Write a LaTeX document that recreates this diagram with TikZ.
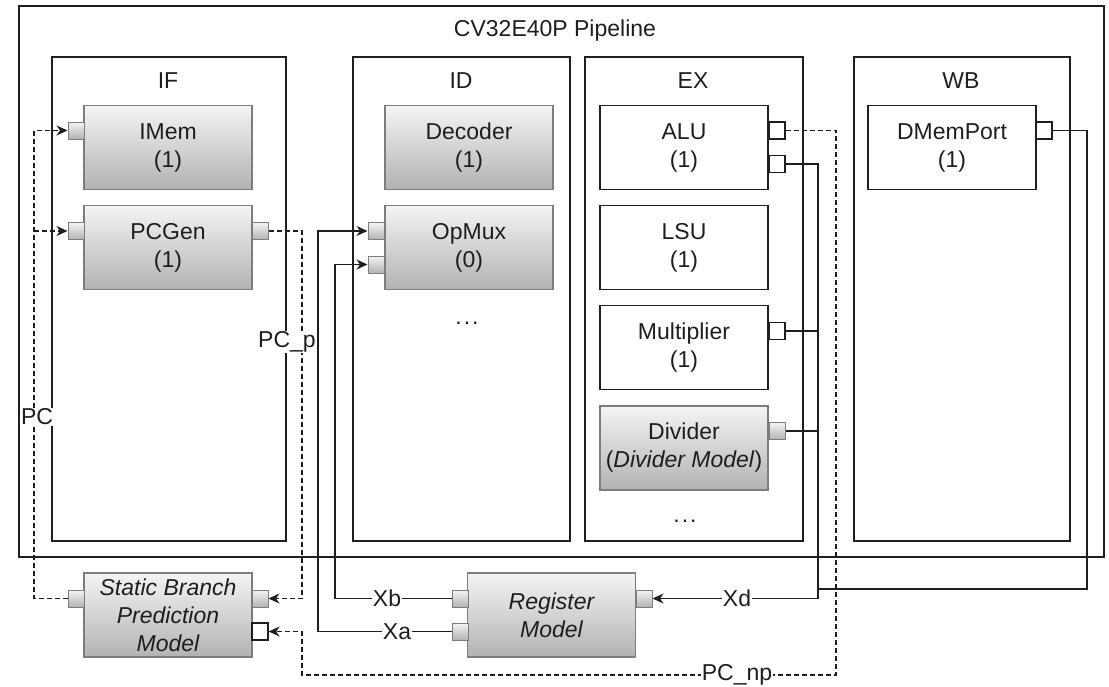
\documentclass[tikz,border=0pt]{standalone}
\usepackage{fontspec}
\setmainfont{Liberation Sans}
\usetikzlibrary{arrows.meta}
\definecolor{gtop}{RGB}{244,244,244}
\definecolor{gbot}{RGB}{178,178,178}
\definecolor{gline}{RGB}{125,125,125}
\definecolor{ink}{RGB}{30,30,30}
\begin{document}
\begin{tikzpicture}[x=1pt,y=-1pt,
  font=\fontsize{23}{28}\selectfont, text=ink,
  stage/.style={draw=ink, line width=1.5pt, anchor=north west, inner sep=0pt},
  gbox/.style={draw=gline, line width=1.2pt, top color=gtop, bottom color=gbot, minimum width=168pt, minimum height=84pt, align=center, inner sep=0pt},
  wbox/.style={draw=ink, line width=1.5pt, fill=white, minimum width=168pt, minimum height=84pt, align=center, inner sep=0pt},
  gport/.style={draw=gline, line width=1pt, top color=gtop, bottom color=gbot, minimum width=16pt, minimum height=17pt, inner sep=0pt},
  wport/.style={draw=ink, line width=1.3pt, fill=white, minimum width=16pt, minimum height=17pt, inner sep=0pt},
  wire/.style={draw=ink, line width=1.3pt},
  dwire/.style={wire, dash pattern=on 5pt off 3pt},
  arr/.style={-{Stealth[length=11pt,width=10pt,inset=3.5pt]}},
  lbl/.style={fill=white, inner sep=1pt}
]
\useasboundingbox (0,0) rectangle (1109,686);

% stages
\node[stage, minimum width=1085pt, minimum height=551pt] (pipe) at (18,5) {};
\node (title) at (555,31) {CV32E40P Pipeline};
\node[stage, minimum width=234pt, minimum height=484pt] (IF) at (51,56) {};
\node[stage, minimum width=217pt, minimum height=484pt] (ID) at (352,56) {};
\node[stage, minimum width=218pt, minimum height=484pt] (EX) at (584,56) {};
\node[stage, minimum width=216pt, minimum height=484pt] (WB) at (853,56) {};
\node (IFl) at (168,81) {IF};
\node (IDl) at (461,81) {ID};
\node (EXl) at (693,81) {EX};
\node (WBl) at (961,81) {WB};

% IF
\node[gbox] (imem) at (168,147.5) {IMem\\(1)};
\node[gbox] (pcgen) at (168,247.5) {PCGen\\(1)};
\node[gport] (imem_in) at (76,130.5) {};
\node[gport] (pcgen_in) at (76,231) {};
\node[gport] (pcgen_out) at (260,231) {};

% ID
\node[gbox] (dec) at (469,147.5) {Decoder\\(1)};
\node[gbox] (opmux) at (469,247.5) {OpMux\\(0)};
\node[gport] (opmux_a) at (376,231) {};
\node[gport] (opmux_b) at (376,264.5) {};
\node (iddots) at (467,323) {.\kern2pt.\kern2pt.};

% EX
\node[wbox] (alu) at (684,147.5) {ALU\\(1)};
\node[wbox] (lsu) at (684,247.5) {LSU\\(1)};
\node[wbox] (mul) at (684,347.5) {Multiplier\\(1)};
\node[gbox] (div) at (684,448) {Divider\\(\textit{Divider Model})};
\node[wport] (alu_o1) at (777,130.5) {};
\node[wport] (alu_o2) at (777,164) {};
\node[wport] (mul_o) at (777,331) {};
\node[gport] (div_o) at (777,431) {};
\node (exdots) at (685,521) {.\kern2pt.\kern2pt.};

% WB
\node[wbox] (dmem) at (952,147.5) {DMemPort\\(1)};
\node[wport] (dmem_o) at (1044,130.5) {};

% bottom models
\node[gbox, font=\fontsize{23}{28}\selectfont\itshape] (sbp) at (168,615) {Static Branch\\Prediction\\Model};
\node[gport] (sbp_out) at (76,598.5) {};
\node[gport] (sbp_in1) at (260,598.5) {};
\node[wport] (sbp_in2) at (260,631.5) {};
\node[gbox, font=\fontsize{23}{28}\selectfont\itshape] (reg) at (551.5,615) {Register\\Model};
\node[gport] (reg_b) at (460,598.5) {};
\node[gport] (reg_a) at (460,631.5) {};
\node[gport] (reg_d) at (644,598.5) {};

% coordinates
\coordinate (pcA) at (34,598.5);
\coordinate (pcB) at (34,130.5);
\coordinate (pcC) at (34,231);
\coordinate (ppA) at (302,231);
\coordinate (ppB) at (302,598.5);
\coordinate (npA) at (836,130.5);
\coordinate (npB) at (836,675);
\coordinate (npC) at (302,675);
\coordinate (npD) at (302,631.5);
\coordinate (xdA) at (818,164);
\coordinate (xdB) at (818,598.5);
\coordinate (xmM) at (818,331);
\coordinate (xmD) at (818,431);
\coordinate (xmJ) at (818,589);
\coordinate (dmA) at (1087,130.5);
\coordinate (dmB) at (1087,589);
\coordinate (xbA) at (335,598.5);
\coordinate (xbB) at (335,264.5);
\coordinate (xaA) at (318,631.5);
\coordinate (xaB) at (318,231);

% dashed PC connectors
\draw[dwire,arr] (sbp_out.west) -- (pcA) -- (pcB) -- (imem_in.west);
\draw[dwire,arr] (pcC) -- (pcgen_in.west);
\draw[dwire,arr] (pcgen_out.east) -- (ppA) -- (ppB) -- (sbp_in1.east);
\draw[dwire,arr] (alu_o1.east) -- (npA) -- (npB) -- (npC) -- (npD) -- (sbp_in2.east);

% solid register connectors
\draw[wire,arr] (alu_o2.east) -- (xdA) -- (xdB) -- (reg_d.east);
\draw[wire] (mul_o.east) -- (xmM);
\draw[wire] (div_o.east) -- (xmD);
\draw[wire] (dmem_o.east) -- (dmA) -- (dmB) -- (xmJ);
\draw[wire,arr] (reg_b.west) -- (xbA) -- (xbB) -- (opmux_b.west);
\draw[wire,arr] (reg_a.west) -- (xaA) -- (xaB) -- (opmux_a.west);

% labels on connectors
\node[lbl] (pcl) at (37,417) {PC};
\node[lbl] (ppl) at (287,342) {PC\_p};
\node[lbl] (npl) at (737,675) {PC\_np};
\node[lbl] (xdl) at (737,598.5) {Xd};
\node[lbl] (xbl) at (387,598.5) {Xb};
\node[lbl] (xal) at (397,631.5) {Xa};
\end{tikzpicture}
\end{document}
